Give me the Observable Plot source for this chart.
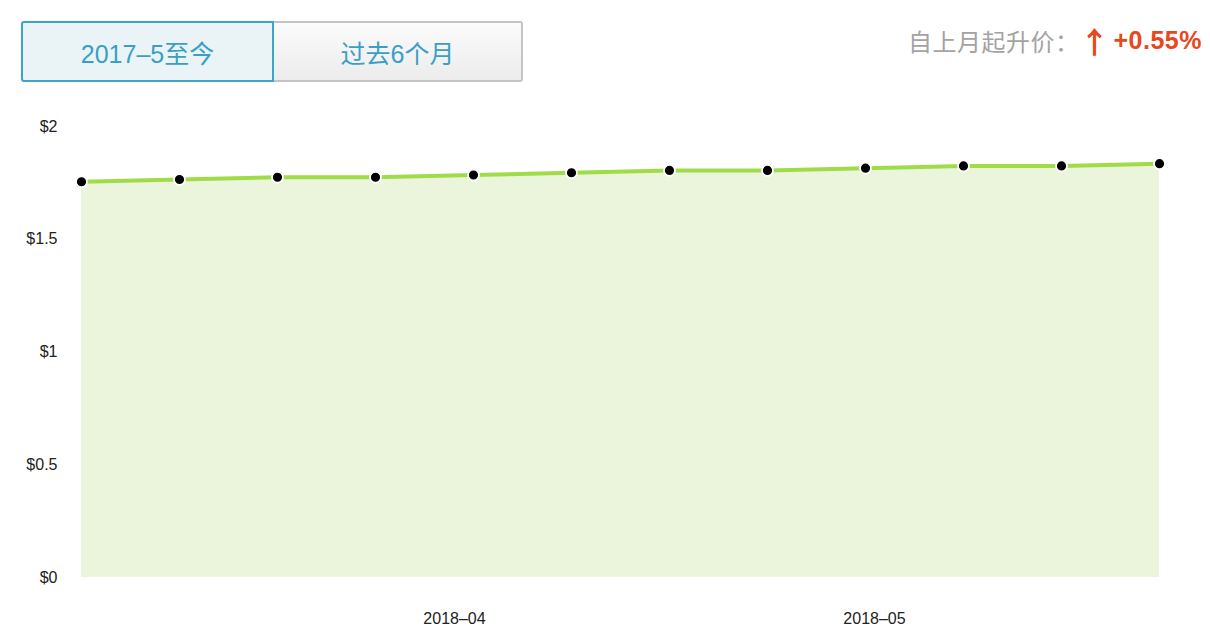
<!DOCTYPE html>
<html>
<head>
<meta charset="utf-8">
<script src="https://cdn.jsdelivr.net/npm/d3@7"></script>
<script src="https://cdn.jsdelivr.net/npm/@observablehq/plot@0.6"></script>
<style>
  html, body { margin: 0; padding: 0; background: #fff; }
  body { width: 1210px; height: 632px; position: relative; overflow: hidden; font-family: "Liberation Sans", Arial, "Noto Sans CJK SC", sans-serif; }
  .btns { position: absolute; left: 21px; top: 21px; display: flex; }
  .btn { box-sizing: border-box; height: 61px; display: flex; align-items: center; justify-content: center; padding-top: 1px;
         font-size: 25px; color: #3a9fc5; font-family: "Liberation Sans", "Noto Sans CJK SC", sans-serif; }
  .btn.active { width: 253px; background: #eaf4f7; border: 2px solid #3aa6c9; border-radius: 3px 0 0 3px; }
  .btn.other { width: 249px; background: linear-gradient(#fbfbfb, #ececec); border: 2px solid #c4c4c4; border-left: none; border-radius: 0 3px 3px 0; }
  .change { position: absolute; right: 8px; top: 20px; height: 40px; display: flex; align-items: center; font-size: 24px; color: #a3a3a3; white-space: nowrap;
            font-family: "Liberation Sans", "Noto Sans CJK SC", sans-serif; }
  .change .lbl { letter-spacing: 0.5px; font-family: "Noto Sans CJK SC", sans-serif; }
  .change .arrow { color: #e8471c; font-size: 30px; font-weight: bold; font-family: "Noto Sans CJK SC", sans-serif; margin: 0 4px 0 0; }
  .change .val { color: #e8471c; font-weight: bold; font-size: 25px; letter-spacing: 0.5px; }
  #chart { position: absolute; left: 0; top: 100px; }
</style>
</head>
<body>
<div class="btns"><div class="btn active">2017–5至今</div><div class="btn other">过去6个月</div></div>
<div class="change"><span class="lbl">自上月起升价：</span><span class="arrow">↑</span><span class="val">+0.55%</span></div>
<div id="chart"></div>
<script>
const dates = ["2018-03-05","2018-03-12","2018-03-19","2018-03-26","2018-04-02","2018-04-09","2018-04-16","2018-04-23","2018-04-30","2018-05-07","2018-05-14","2018-05-21"];
const prices = [1.755,1.765,1.775,1.775,1.785,1.795,1.805,1.805,1.815,1.825,1.825,1.835];
const yTicks = [0, 0.5, 1, 1.5, 2];
const xTickDates = ["2018-04-01","2018-05-01"];

const data = dates.map((d, i) => ({date: new Date(d + "T00:00:00Z"), price: prices[i]}));
const xTicks = xTickDates.map(d => new Date(d + "T00:00:00Z"));

const chart = Plot.plot({
  width: 1210,
  height: 532,
  marginTop: 26,
  marginBottom: 55,
  marginLeft: 81,
  marginRight: 51,
  style: {fontSize: "16px", fontFamily: "Liberation Sans, Arial, sans-serif", color: "#222", background: "transparent"},
  x: {type: "utc", domain: [data[0].date, data[data.length - 1].date]},
  y: {domain: [0, 2]},
  marks: [
    Plot.areaY(data, {x: "date", y: "price", fill: "#ebf5dc"}),
    Plot.lineY(data, {x: "date", y: "price", stroke: "#9fdc48", strokeWidth: 4}),
    Plot.dot(data, {x: "date", y: "price", r: 5.5, fill: "#000", stroke: "#fff", strokeWidth: 1.8}),
    Plot.axisY({ticks: yTicks, tickSize: 0, tickPadding: 24, tickFormat: d => "$" + d, fill: "#222", label: null}),
    Plot.axisX({ticks: xTicks, tickSize: 0, tickPadding: 35, dx: -5, tickFormat: d3.utcFormat("%Y–%m"), fill: "#222", label: null})
  ]
});
document.getElementById("chart").appendChild(chart);
</script>
</body>
</html>
